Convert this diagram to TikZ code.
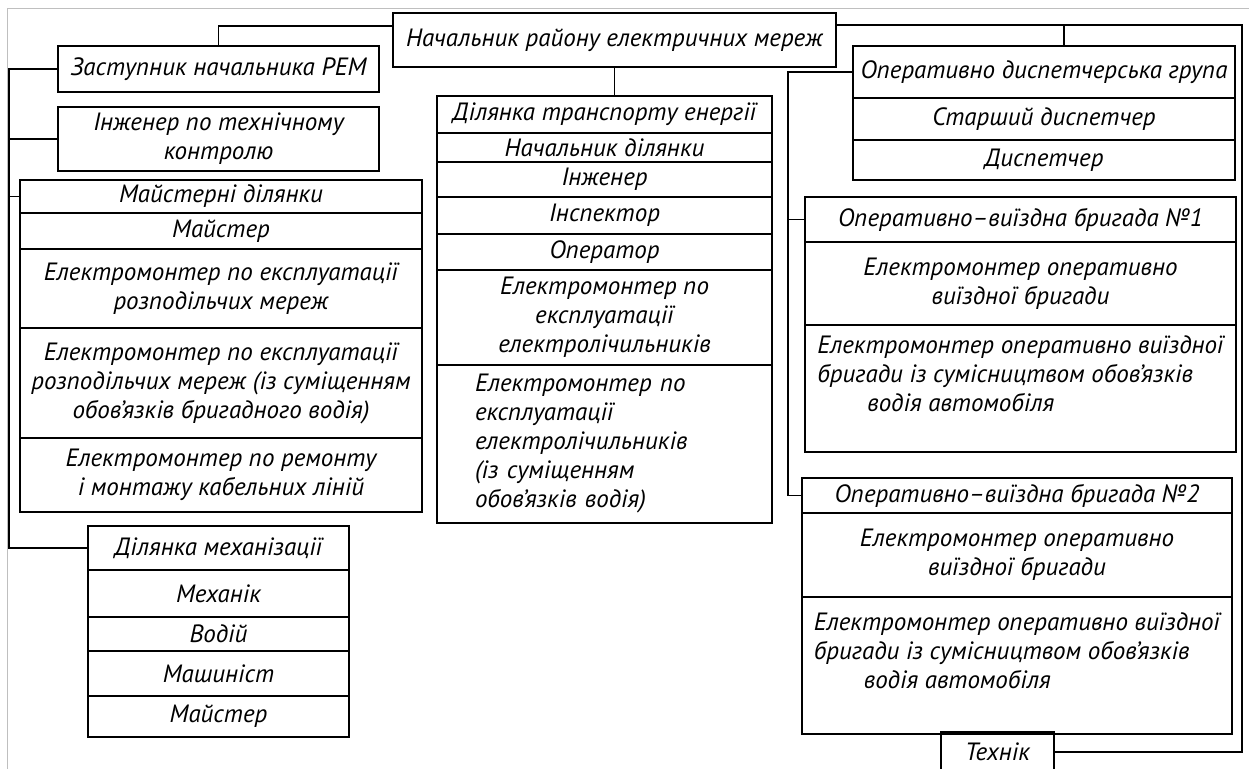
\documentclass[tikz,border=0pt]{standalone}
\usepackage{fontspec}
\setmainfont{PT Sans}
\usetikzlibrary{positioning}

\begin{document}
\begin{tikzpicture}[
   x=0.5pt, y=-0.5pt,
   cell/.style={draw, line width=0.6pt, outer sep=0pt, inner xsep=2pt,
                inner ysep=0.5pt, align=center,
                font=\fontsize{12.5}{14.5}\selectfont\itshape},
   wire/.style={line width=0.6pt},
   node distance=0pt]
\useasboundingbox (0,0) rectangle (1249,769);
\draw[black!25] (7,769) -- (7,8) -- (1249,8);

% head
\node[cell, anchor=north west, minimum width=221.5pt, minimum height=27pt] (boss) at (393,13)
  {Начальник району електричних мереж};

% left column
\node[cell, anchor=north west, minimum width=160.5pt, minimum height=23pt] (dep) at (58,46)
  {Заступник начальника РЕМ};
\node[cell, anchor=north west, minimum width=160.5pt, minimum height=32pt] (eng) at (58,107)
  {Інженер по технічному\\контролю};

\node[cell, anchor=north west, minimum width=201pt, minimum height=16.5pt] (ma1) at (20,180)
  {Майстерні ділянки};
\node[cell, below=of ma1, minimum width=201pt, minimum height=18pt] (ma2) {Майстер};
\node[cell, below=of ma2, minimum width=201pt, minimum height=39.5pt] (ma3)
  {Електромонтер по експлуатації\\розподільчих мереж};
\node[cell, below=of ma3, minimum width=201pt, minimum height=55pt] (ma4)
  {Електромонтер по експлуатації\\розподільчих мереж (із суміщенням\\обов’язків бригадного водія)};
\node[cell, below=of ma4, minimum width=201pt, minimum height=37pt] (ma5)
  {Електромонтер по ремонту\\і монтажу кабельних ліній};

\node[cell, anchor=north west, minimum width=130.5pt, minimum height=22pt] (me1) at (88,526)
  {Ділянка механізації};
\node[cell, below=of me1, minimum width=130.5pt, minimum height=23.5pt] (me2) {Механік};
\node[cell, below=of me2, minimum width=130.5pt, minimum height=17pt] (me3) {Водій};
\node[cell, below=of me3, minimum width=130.5pt, minimum height=22.5pt] (me4) {Машиніст};
\node[cell, below=of me4, minimum width=130.5pt, minimum height=20.5pt] (me5) {Майстер};

% middle column
\node[cell, anchor=north west, minimum width=167.5pt, minimum height=18.5pt] (tr1) at (437,96)
  {Ділянка транспорту енергії};
\node[cell, below=of tr1, minimum width=167.5pt, minimum height=14.5pt] (tr2) {Начальник ділянки};
\node[cell, below=of tr2, minimum width=167.5pt, minimum height=17.5pt] (tr3) {Інженер};
\node[cell, below=of tr3, minimum width=167.5pt, minimum height=18.5pt] (tr4) {Інспектор};
\node[cell, below=of tr4, minimum width=167.5pt, minimum height=18pt] (tr5) {Оператор};
\node[cell, below=of tr5, minimum width=167.5pt, minimum height=47.5pt] (tr6)
  {Електромонтер по\\експлуатації\\електролічильників};
\node[cell, below=of tr6, minimum height=79pt, align=left, inner xsep=19pt,
      text width=129.5pt] (tr7)
  {Електромонтер по\\експлуатації\\електролічильників\\(із суміщенням\\обов’язків водія)};

% right column
\node[cell, anchor=north west, minimum width=191pt, minimum height=26pt] (di1) at (853,46)
  {Оперативно диспетчерська група};
\node[cell, below=of di1, minimum width=191pt, minimum height=21pt] (di2) {Старший диспетчер};
\node[cell, below=of di2, minimum width=191pt, minimum height=20pt] (di3) {Диспетчер};

\node[cell, anchor=north west, minimum width=215.5pt, minimum height=22.5pt] (b1a) at (805,197)
  {Оперативно–виїздна бригада №1};
\node[cell, below=of b1a, minimum width=215.5pt, minimum height=41.5pt] (b1b)
  {Електромонтер оперативно\\виїздної бригади};
\node[cell, below=of b1b, minimum width=215.5pt, minimum height=63.5pt, align=left] (b1c)
  {Електромонтер оперативно виїздної\\бригади із сумісництвом обов’язків\\\hspace*{2em}водія автомобіля\\ \mbox{}};

\node[cell, anchor=north west, minimum width=215pt, minimum height=17.5pt] (b2a) at (802,478)
  {Оперативно–виїздна бригада №2};
\node[cell, below=of b2a, minimum width=215pt, minimum height=42pt] (b2b)
  {Електромонтер оперативно\\виїздної бригади};
\node[cell, below=of b2b, minimum width=215pt, minimum height=68.5pt, align=left] (b2c)
  {Електромонтер оперативно виїздної\\бригади із сумісництвом обов’язків\\\hspace*{2em}водія автомобіля\\ \mbox{}};

\node[cell, anchor=north west, minimum width=56.5pt, minimum height=20pt] (tech) at (941,732)
  {Технік};

% connectors
\coordinate (ltap) at (393,26);
\coordinate (rtap) at (836,25);
\coordinate (dtap) at (1064,25);
\coordinate (rbus) at (1242,25);
\coordinate (lbus) at (9,0);
\coordinate (ibus) at (788,0);
\draw[wire] (ltap) -| (dep.north);
\draw[wire] (boss.south) -- (boss.south |- tr1.north);
\draw[wire] (rtap) -- (rbus) |- (tech.east);
\draw[wire] (dtap) -- (dtap |- di1.north);
\draw[wire] (dep.west) -| (lbus |- me1.west) -- (me1.west);
\foreach \n in {eng,ma1}
  \draw[wire] (lbus |- \n.west) -- (\n.west);
\draw[wire] (di1.west) -| (ibus |- b2a.west) -- (b2a.west);
\draw[wire] (ibus |- b1a.west) -- (b1a.west);
\end{tikzpicture}
\end{document}
